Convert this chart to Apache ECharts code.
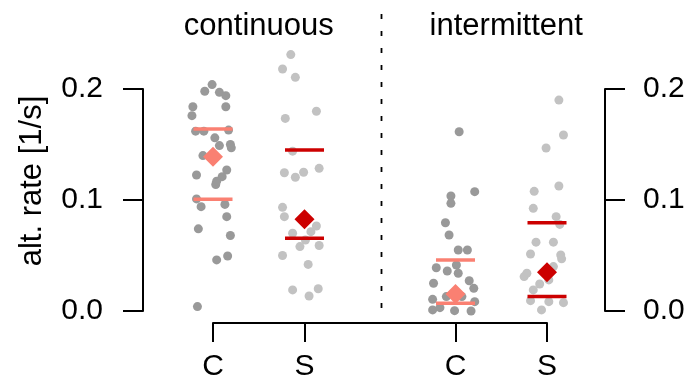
<!DOCTYPE html>
<html>
<head>
<meta charset="utf-8">
<script src="https://cdn.jsdelivr.net/npm/echarts@6/dist/echarts.min.js"></script>
<style>
html, body { margin: 0; padding: 0; background: #fff; }
#main { width: 689px; height: 377px; }
</style>
</head>
<body>
<div id="main"></div>
<script>
// groups and x tick labels
var groupNames = ['continuous', 'intermittent'];
var tickLabels = ['C', 'S', 'C', 'S'];
var yName = 'alt. rate [1/s]';
var groupPos = [0, 1, 2.65, 3.65];
var sepX = 1.84;

// single values per condition, with horizontal jitter
var c1Vals = [0.204, 0.198, 0.197, 0.194, 0.184, 0.184, 0.176, 0.162, 0.162, 0.163, 0.156, 0.149, 0.150, 0.147, 0.140,
  0.1225, 0.127, 0.121, 0.114, 0.117, 0.101, 0.094, 0.096, 0.085, 0.074, 0.068, 0.046, 0.0495, 0.004];
var c1Jit = [-0.01, -0.09, 0.07, 0.14, -0.22, 0.14, -0.23, -0.19, -0.10, 0.17, 0.02, 0.07, 0.19, 0.20, -0.11,
  -0.18, 0.15, 0.10, 0.03, 0.04, -0.18, -0.13, 0.13, 0.15, -0.16, 0.19, 0.04, 0.16, -0.17];

var s1Vals = [0.231, 0.218, 0.2105, 0.180, 0.1735, 0.144, 0.1246, 0.1205, 0.125, 0.1285, 0.0934, 0.085, 0.0766,
  0.070, 0.0715, 0.064, 0.058, 0.059, 0.050, 0.042, 0.019, 0.0135, 0.020];
var s1Jit = [-0.15, -0.24, -0.10, 0.13, -0.21, -0.13, -0.22, -0.10, -0.01, 0.16, -0.24, -0.22, 0.13,
  -0.13, 0.07, 0.01, -0.05, 0.16, -0.24, 0.04, -0.13, 0.05, 0.15];

var c2Vals = [0.1615, 0.1075, 0.1036, 0.097, 0.0795, 0.0685, 0.055, 0.055, 0.0414, 0.039, 0.036, 0.034, 0.025,
  0.0273, 0.0204, 0.0105, 0.013, 0.013, 0.001, 0.003, 0.0003, 0.0, 0.0084];
var c2Jit = [0.04, 0.21, -0.05, -0.05, -0.11, -0.07, 0.03, 0.13, 0.01, -0.21, -0.09, 0.03, -0.24,
  0.15, 0.20, -0.25, -0.10, 0.07, -0.25, -0.17, -0.01, 0.17, 0.21];

var s2Vals = [0.190, 0.1586, 0.1468, 0.1126, 0.1078, 0.0925, 0.085, 0.078, 0.062, 0.062, 0.0514, 0.0505, 0.047,
  0.031, 0.034, 0.040, 0.0243, 0.019, 0.028, 0.0093, 0.0084, 0.0075, 0.001];
var s2Jit = [0.13, 0.18, -0.01, 0.13, -0.14, -0.15, 0.10, 0.14, -0.12, 0.07, -0.18, 0.15, 0.16,
  -0.25, -0.22, 0.07, -0.08, -0.15, 0.02, -0.18, 0.02, 0.18, -0.06];

// summary per condition: mean (diamond) and quartiles (bars)
var meanVals = [0.139, 0.0826, 0.0153, 0.0349];
var upperQ = [0.164, 0.145, 0.046, 0.0796];
var lowerQ = [0.1006, 0.0655, 0.007, 0.013];

var FONT = 'Liberation Sans';
var dotColors = ['#999999', '#c2c2c2'];
var sumColors = ['#fa8072', '#cc0000'];

var allVals = [c1Vals, s1Vals, c2Vals, s2Vals];
var allJit = [c1Jit, s1Jit, c2Jit, s2Jit];

var myChart = echarts.init(document.getElementById('main'));

var series = [];
for (var i = 0; i < 4; i++) {
  var pts = [];
  for (var k = 0; k < allVals[i].length; k++) {
    pts.push([groupPos[i] + allJit[i][k], allVals[i][k]]);
  }
  series.push({
    type: 'scatter',
    name: tickLabels[i] + i,
    data: pts,
    symbolSize: 9,
    clip: false,
    silent: true,
    itemStyle: { color: dotColors[i % 2], opacity: 1 }
  });
}

var qData = [];
var mData = [];
for (var j = 0; j < 4; j++) {
  var col = sumColors[j % 2];
  qData.push({ value: [groupPos[j], upperQ[j]], itemStyle: { color: col, opacity: 1 } });
  qData.push({ value: [groupPos[j], lowerQ[j]], itemStyle: { color: col, opacity: 1 } });
  mData.push({ value: [groupPos[j], meanVals[j]], itemStyle: { color: col, opacity: 1 } });
}
series.push({
  type: 'scatter', name: 'quartiles', data: qData, symbol: 'rect',
  symbolSize: [39, 3.5], clip: false, silent: true, z: 3
});
series.push({
  type: 'scatter', name: 'mean', data: mData, symbol: 'diamond',
  symbolSize: 20, clip: false, silent: true, z: 4
});

function yAxisOpt(pos, off, margin) {
  return {
    type: 'value', position: pos, offset: off,
    min: 0, max: 0.2, interval: 0.1,
    axisLine: { show: true, onZero: false, lineStyle: { color: '#000', width: 2 } },
    axisTick: { show: true, length: 20, lineStyle: { color: '#000', width: 2 } },
    axisLabel: {
      margin: margin, color: '#000', fontSize: 30, fontFamily: FONT,
      formatter: function (v) { return v.toFixed(1); }
    },
    splitLine: { show: false }
  };
}

var titleFont = '31px ' + FONT;

var option = {
  animation: false,
  backgroundColor: '#fff',
  grid: { left: 213, right: 142, top: 89, bottom: 66, outerBoundsMode: 'none', containLabel: false },
  xAxis: {
    type: 'value', min: 0, max: 3.65, position: 'bottom', offset: 12,
    axisLine: { show: true, onZero: false, lineStyle: { color: '#000', width: 2 } },
    axisTick: { show: true, length: 19, customValues: groupPos, lineStyle: { color: '#000', width: 2 } },
    axisLabel: {
      customValues: groupPos, margin: 29, color: '#000', fontSize: 30, fontFamily: FONT,
      formatter: function (v) {
        for (var n = 0; n < groupPos.length; n++) {
          if (Math.abs(groupPos[n] - v) < 1e-6) return tickLabels[n];
        }
        return '';
      }
    },
    splitLine: { show: false }
  },
  yAxis: [yAxisOpt('left', 70, 40), yAxisOpt('right', 58, 38)],
  series: series
};

myChart.setOption(option);

// titles, y name and the dashed separator, placed through the x scale
var p = myChart.convertToPixel({ gridIndex: 0 }, [sepX, 0]);
var t1 = myChart.convertToPixel({ gridIndex: 0 }, [(groupPos[0] + groupPos[1]) / 2, 0]);
var t2 = myChart.convertToPixel({ gridIndex: 0 }, [(groupPos[2] + groupPos[3]) / 2, 0]);
myChart.setOption({
  graphic: [
    { type: 'text', x: t1[0], y: 26, style: { text: groupNames[0], fill: '#000', font: titleFont, align: 'center', verticalAlign: 'middle' } },
    { type: 'text', x: t2[0] + 5, y: 26, style: { text: groupNames[1], fill: '#000', font: titleFont, align: 'center', verticalAlign: 'middle' } },
    { type: 'text', x: 32, y: 181, rotation: Math.PI / 2, style: { text: yName, fill: '#000', font: '31px ' + FONT, align: 'center', verticalAlign: 'middle' } },
    {
      type: 'line', silent: true,
      shape: { x1: Math.round(p[0]) + 0.5, y1: 14, x2: Math.round(p[0]) + 0.5, y2: 316 },
      style: { stroke: '#000', lineWidth: 1.8, lineDash: [5, 12] }
    }
  ]
});
</script>
</body>
</html>
